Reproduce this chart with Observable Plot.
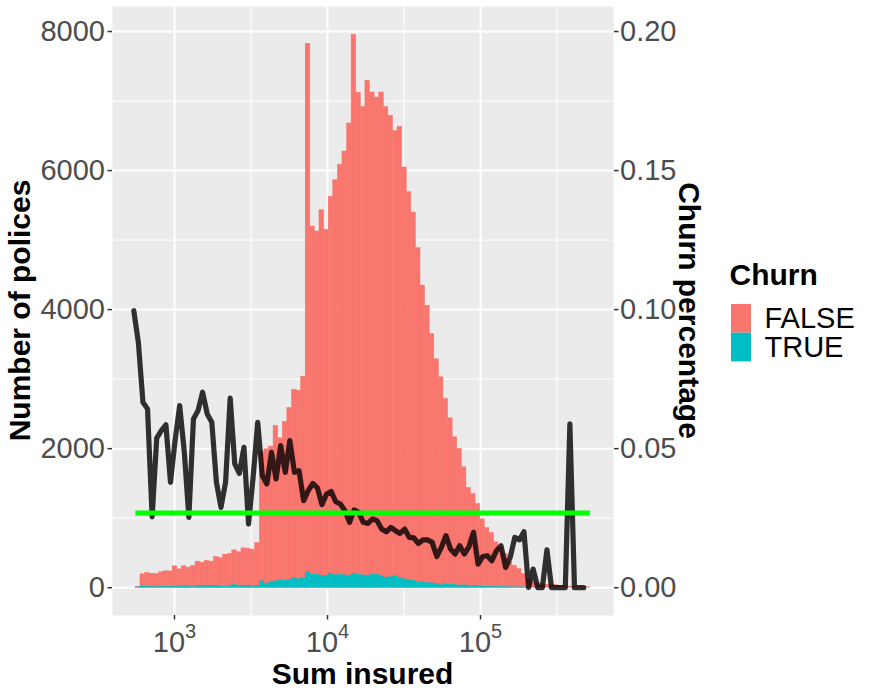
<!DOCTYPE html>
<html><head><meta charset="utf-8">
<script src="https://cdn.jsdelivr.net/npm/d3@7"></script>
<script src="https://cdn.jsdelivr.net/npm/@observablehq/plot@0.6"></script>
<style>body{margin:0;background:#fff;overflow:hidden;}</style>
</head><body><div id="chart"></div>
<script>
// Histogram bins on log10(sum insured)
const binStartLog = 2.7477;
const binWidthLog = 0.03;
const lineStartLog = 2.734;

// Stacked bar tops (FALSE + TRUE) per bin
const totalCounts = [10,192,211,201,197,221,235,235,307,264,
307,288,312,374,360,384,374,441,427,475,
485,537,508,566,561,547,640,1950,1990,2030,
2327,2149,2384,2585,2845,2835,3036,7824,5195,5123,
5430,5147,5622,5861,6083,6274,6677,7953,7119,6912,
7291,7123,7051,7123,6912,6788,6566,6629,6044,5688,
5396,4883,4346,4054,3650,3285,3026,2715,2436,2163,
1996,1731,1435,1348,1204,983,858,787,652,580,
485,364,317,269,197,125,76,62,53,43,
40,36,24,20,16,17,10,8,6];

// Churned (TRUE) counts per bin
const trueCounts = [3,16,14,13,6,12,13,14,12,14,
20,15,8,23,23,27,23,26,16,14,
18,37,23,23,28,12,25,91,53,77,
91,101,101,115,139,120,139,225,187,182,
173,163,197,177,187,177,173,201,187,177,
168,187,182,163,144,149,163,134,120,110,
101,82,72,67,62,53,34,48,43,38,
29,34,24,24,20,17,15,12,10,10,
8,5,5,5,4,3,0,1,0,0,
1,0,0,0,0,1,0,0,0];

// Churn percentage per bin (secondary axis)
const churnPct = [0.0996,0.0882,0.0667,0.0643,0.0255,0.0538,0.0565,0.0586,0.0379,0.0529,
0.0655,0.0490,0.0253,0.0607,0.0637,0.0703,0.0625,0.0595,0.0379,0.0289,
0.0379,0.0682,0.0445,0.0411,0.0505,0.0229,0.0397,0.0595,0.0403,0.0373,
0.0487,0.0391,0.0511,0.0415,0.0529,0.0415,0.0421,0.0313,0.0349,0.0375,
0.0359,0.0299,0.0337,0.0346,0.0309,0.0301,0.0277,0.0235,0.0280,0.0271,
0.0235,0.0231,0.0247,0.0241,0.0211,0.0201,0.0217,0.0205,0.0195,0.0211,
0.0181,0.0179,0.0159,0.0172,0.0172,0.0163,0.0112,0.0145,0.0187,0.0139,
0.0121,0.0151,0.0121,0.0147,0.0199,0.0085,0.0112,0.0115,0.0097,0.0133,
0.0151,0.0073,0.0109,0.0181,0.0172,0.0201,0.0001,0.0067,0,0,
0.0136,0,0,0,0,0.0589,0,0,0];

const avgChurn = 0.0269;

const countTicks = [0,2000,4000,6000,8000];
const countMinor = [1000,3000,5000,7000];
const pctTicks = [0,0.05,0.10,0.15,0.20];
const xTicks = [1e3,1e4,1e5];
const xMinor = [10**3.5,10**4.5,10**5.5];
const legendLabels = ["FALSE","TRUE"];
const legendColors = ["#F8766D","#00BFC4"];

const SCALE = 40000; // 0.20 churn <-> 8000 policies

const bins = totalCounts.map((t,i)=>({
  x1: 10**(binStartLog+i*binWidthLog),
  x2: 10**(binStartLog+(i+1)*binWidthLog),
  total: t, churned: trueCounts[i]
}));
const linePts = churnPct.map((p,i)=>({x:10**(lineStartLog+i*binWidthLog), y:p*SCALE}));
const avgLine = [{y: avgChurn*SCALE, x1: bins[0].x1, x2: bins[bins.length-1].x2}];

const FONT = "'Liberation Sans', Arial, Helvetica, sans-serif";

const plot = Plot.plot({
  width: 872, height: 698,
  marginLeft: 112, marginRight: 259, marginTop: 6, marginBottom: 83,
  style: {fontFamily: FONT, fontSize: "29px", background: "white", overflow: "visible"},
  x: {type: "log", domain: [10**2.595, 10**5.869]},
  y: {domain: [-400, 8360]},
  marks: [
    Plot.frame({fill: "#EBEBEB", stroke: null}),
    Plot.gridX(xMinor, {stroke: "white", strokeOpacity: 1, strokeWidth: 1}),
    Plot.gridY(countMinor, {stroke: "white", strokeOpacity: 1, strokeWidth: 1}),
    Plot.gridX(xTicks, {stroke: "white", strokeOpacity: 1, strokeWidth: 2}),
    Plot.gridY(countTicks, {stroke: "white", strokeOpacity: 1, strokeWidth: 2}),
    Plot.rectY(bins, {x1: "x1", x2: "x2", y1: 0, y2: "total", fill: legendColors[0],
      stroke: legendColors[0], strokeWidth: 0.5}),
    Plot.rectY(bins, {x1: "x1", x2: "x2", y1: 0, y2: "churned", fill: legendColors[1],
      stroke: legendColors[1], strokeWidth: 0.5}),
    Plot.line(linePts, {x: "x", y: "y", stroke: "black", strokeOpacity: 0.8, strokeWidth: 5.2}),
    Plot.ruleY(avgLine, {y: "y", x1: "x1", x2: "x2", stroke: "#00FF00", strokeWidth: 5}),
    Plot.axisX(xTicks, {tickFormat: d => "10^" + Math.round(Math.log10(d)), tickSize: 4.5, tickPadding: 11,
      stroke: "#333333", fill: "#4D4D4D", strokeWidth: 1.5, label: null, fontSize: 29}),
    Plot.axisY(countTicks, {anchor: "left", tickSize: 4.5, tickPadding: 3, stroke: "#333333", fill: "#4D4D4D",
      strokeWidth: 1.5, label: null, tickFormat: d => String(d), fontSize: 29}),
    Plot.axisY(pctTicks.map(p => p*SCALE), {anchor: "right", tickSize: 4.5, tickPadding: 2, stroke: "#333333", fill: "#4D4D4D",
      strokeWidth: 1.5, label: null, tickFormat: d => (d/SCALE).toFixed(2), fontSize: 29})
  ]
});

const svg = d3.select(plot);
svg.selectAll('g[aria-label="x-axis tick label"] text').each(function(){
  const t = d3.select(this);
  const [base, exp] = t.text().split("^");
  t.text(null);
  t.append("tspan").text(base);
  t.append("tspan").attr("dy", -14).attr("font-size", "20px").text(exp);
});

function addText(txt, x, y, opts = {}) {
  const el = svg.append("text")
    .attr("x", x).attr("y", y)
    .attr("fill", opts.fill || "black")
    .attr("font-size", opts.size || 30)
    .attr("font-weight", opts.bold ? "bold" : "normal")
    .attr("text-anchor", opts.anchor || "start")
    .attr("font-family", FONT)
    .text(txt);
  if (opts.rotate) el.attr("transform", `rotate(${opts.rotate},${x},${y})`);
  return el;
}
addText("Sum insured", 362.5, 684, {bold: true, anchor: "middle"});
addText("Number of polices", 30, 310.5, {bold: true, anchor: "middle", rotate: -90});
addText("Churn percentage", 679, 310.5, {bold: true, anchor: "middle", rotate: 90});

// legend
addText("Churn", 729.5, 285, {bold: true});
legendLabels.forEach((lab, i) => {
  svg.append("rect").attr("x", 731).attr("y", 304 + i*28.7).attr("width", 20).attr("height", 28.7)
    .attr("fill", legendColors[i]);
  addText(lab, 764.5, 328.3 + i*29, {size: 29});
});

document.getElementById("chart").appendChild(plot);
</script>
</body></html>
